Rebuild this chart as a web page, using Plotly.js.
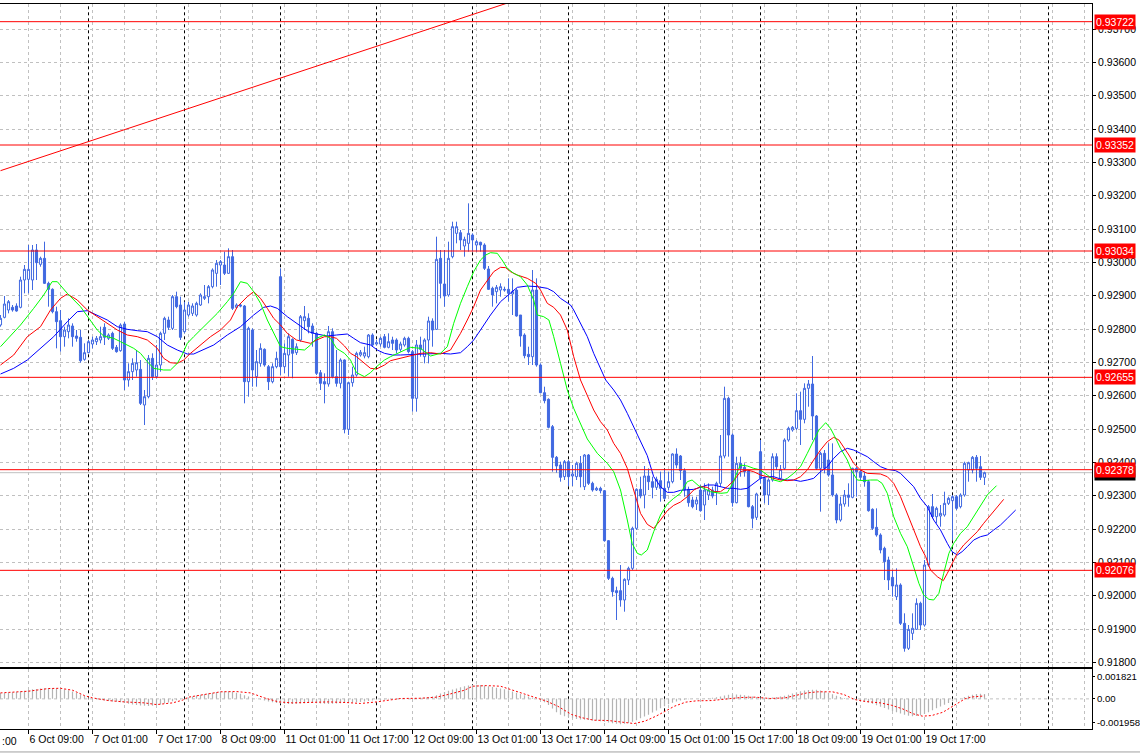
<!DOCTYPE html>
<html><head><meta charset="utf-8">
<script src="https://cdn.plot.ly/plotly-3.0.1.min.js"></script>
<style>html,body{margin:0;padding:0;background:#fff;}#chart{width:1140px;height:754px;}</style>
</head><body><div id="chart"></div>
<script>
// ---- H1 candles, bar 0 = 6 Oct 02:00 ----
const openP = [
0.92812,0.92835,0.92857,0.92865,0.92869,0.92865,0.92947,0.92949,0.92947,0.93037,
0.92994,0.93012,0.92937,0.92919,0.92852,0.92825,0.92777,0.92792,0.92809,0.92779,
0.92775,0.92709,0.92729,0.92755,0.92762,0.92767,0.92805,0.92772,0.92787,0.92745,
0.92735,0.92815,0.92647,0.92672,0.92677,0.92679,0.92572,0.92597,0.92712,0.92657,
0.92692,0.92787,0.92827,0.92802,0.92897,0.92872,0.92792,0.92842,0.92847,0.92842,
0.92872,0.92892,0.92897,0.92927,0.92967,0.92992,0.92992,0.92967,0.93017,0.92865,
0.92872,0.92869,0.92642,0.92797,0.92657,0.92697,0.92739,0.92687,0.92642,0.92687,
0.92957,0.92687,0.92722,0.92769,0.92729,0.92767,0.92825,0.92832,0.92809,0.92787,
0.92669,0.92642,0.92635,0.92792,0.92657,0.92637,0.92707,0.92499,0.92639,0.92662,
0.92722,0.92719,0.92717,0.92782,0.92755,0.92755,0.92777,0.92745,0.92767,0.92767,
0.92739,0.92752,0.92772,0.92732,0.92592,0.92752,0.92717,0.92767,0.92824,0.92799,
0.93012,0.92935,0.92902,0.93017,0.93087,0.93089,0.93049,0.93057,0.93082,0.93052,
0.93060,0.93052,0.92980,0.92922,0.92912,0.92917,0.92919,0.92919,0.92905,0.92917,
0.92842,0.92782,0.92724,0.92717,0.92917,0.92692,0.92609,0.92589,0.92507,0.92415,
0.92392,0.92357,0.92402,0.92359,0.92357,0.92397,0.92327,0.92422,0.92337,0.92317,
0.92322,0.92315,0.92165,0.92052,0.92015,0.92015,0.91987,0.92047,0.92082,0.92202,
0.92319,0.92302,0.92359,0.92342,0.92325,0.92345,0.92322,0.92325,0.92342,0.92425,
0.92419,0.92375,0.92319,0.92287,0.92275,0.92317,0.92272,0.92302,0.92317,0.92312,
0.92337,0.92419,0.92592,0.92482,0.92279,0.92397,0.92385,0.92375,0.92267,0.92235,
0.92432,0.92352,0.92302,0.92347,0.92417,0.92352,0.92382,0.92467,0.92497,0.92502,
0.92555,0.92529,0.92622,0.92635,0.92539,0.92382,0.92427,0.92407,0.92362,0.92302,
0.92227,0.92275,0.92302,0.92295,0.92382,0.92372,0.92359,0.92342,0.92259,0.92205,
0.92182,0.92142,0.92107,0.92055,0.91997,0.92032,0.91917,0.91842,0.91887,0.91899,
0.91977,0.91912,0.92092,0.92267,0.92237,0.92239,0.92242,0.92277,0.92285,0.92297,
0.92267,0.92302,0.92377,0.92377,0.92415,0.92387,0.92355];
const highP = [
0.92842,0.92899,0.92887,0.92872,0.92877,0.92957,0.92992,0.93052,0.93052,0.93055,
0.93017,0.93062,0.92942,0.92922,0.92867,0.92857,0.92807,0.92832,0.92817,0.92797,
0.92797,0.92757,0.92767,0.92777,0.92779,0.92807,0.92817,0.92787,0.92792,0.92752,
0.92817,0.92822,0.92697,0.92712,0.92737,0.92707,0.92617,0.92722,0.92727,0.92752,
0.92792,0.92837,0.92837,0.92902,0.92912,0.92897,0.92882,0.92882,0.92877,0.92882,
0.92907,0.92932,0.92932,0.92982,0.93007,0.93007,0.93032,0.93042,0.93037,0.92877,
0.92877,0.92872,0.92807,0.92802,0.92737,0.92757,0.92742,0.92692,0.92697,0.92732,
0.92982,0.92757,0.92787,0.92772,0.92757,0.92842,0.92869,0.92847,0.92817,0.92792,
0.92677,0.92667,0.92809,0.92802,0.92737,0.92712,0.92709,0.92642,0.92687,0.92732,
0.92737,0.92747,0.92785,0.92787,0.92767,0.92777,0.92785,0.92787,0.92777,0.92772,
0.92762,0.92777,0.92777,0.92737,0.92767,0.92777,0.92772,0.92837,0.92832,0.93077,
0.93037,0.93037,0.93062,0.93122,0.93122,0.93097,0.93077,0.93177,0.93087,0.93067,
0.93062,0.93057,0.92989,0.92927,0.92932,0.92937,0.92927,0.92952,0.92952,0.92922,
0.92842,0.92787,0.92747,0.92977,0.92952,0.92697,0.92627,0.92592,0.92512,0.92419,
0.92402,0.92407,0.92407,0.92392,0.92402,0.92419,0.92425,0.92425,0.92342,0.92327,
0.92327,0.92317,0.92167,0.92057,0.92027,0.92092,0.92052,0.92087,0.92207,0.92322,
0.92357,0.92389,0.92382,0.92357,0.92357,0.92372,0.92377,0.92372,0.92427,0.92442,
0.92422,0.92382,0.92327,0.92297,0.92297,0.92332,0.92337,0.92337,0.92327,0.92342,
0.92482,0.92627,0.92597,0.92487,0.92417,0.92417,0.92397,0.92377,0.92272,0.92309,
0.92467,0.92357,0.92352,0.92427,0.92427,0.92392,0.92472,0.92507,0.92509,0.92607,
0.92612,0.92637,0.92647,0.92719,0.92542,0.92432,0.92437,0.92457,0.92457,0.92307,
0.92297,0.92317,0.92337,0.92384,0.92387,0.92377,0.92372,0.92347,0.92262,0.92262,
0.92187,0.92147,0.92117,0.92077,0.92082,0.92037,0.91947,0.91912,0.91947,0.91992,
0.91982,0.92107,0.92272,0.92305,0.92267,0.92272,0.92312,0.92297,0.92302,0.92302,
0.92307,0.92402,0.92402,0.92419,0.92422,0.92419,0.92372];
const lowP = [
0.92807,0.92832,0.92847,0.92852,0.92852,0.92862,0.92907,0.92907,0.92917,0.92947,
0.92987,0.92935,0.92867,0.92847,0.92742,0.92732,0.92747,0.92772,0.92747,0.92762,
0.92699,0.92705,0.92727,0.92742,0.92752,0.92757,0.92752,0.92767,0.92737,0.92729,
0.92732,0.92617,0.92627,0.92647,0.92657,0.92572,0.92512,0.92592,0.92647,0.92652,
0.92672,0.92767,0.92797,0.92797,0.92862,0.92767,0.92787,0.92837,0.92839,0.92837,
0.92869,0.92887,0.92877,0.92922,0.92927,0.92932,0.92962,0.92965,0.92857,0.92862,
0.92865,0.92577,0.92597,0.92627,0.92627,0.92687,0.92687,0.92617,0.92637,0.92682,
0.92662,0.92667,0.92657,0.92652,0.92722,0.92762,0.92797,0.92787,0.92747,0.92662,
0.92617,0.92577,0.92627,0.92652,0.92627,0.92622,0.92487,0.92482,0.92627,0.92657,
0.92717,0.92712,0.92712,0.92747,0.92751,0.92747,0.92742,0.92742,0.92737,0.92727,
0.92732,0.92747,0.92727,0.92552,0.92552,0.92717,0.92697,0.92697,0.92747,0.92797,
0.92892,0.92867,0.92897,0.93012,0.93057,0.93037,0.93017,0.93032,0.93032,0.93032,
0.93032,0.92977,0.92917,0.92867,0.92877,0.92897,0.92912,0.92882,0.92842,0.92837,
0.92747,0.92712,0.92692,0.92692,0.92687,0.92607,0.92577,0.92502,0.92372,0.92369,
0.92342,0.92347,0.92329,0.92329,0.92347,0.92325,0.92317,0.92332,0.92312,0.92314,
0.92307,0.92162,0.92047,0.91997,0.91927,0.91967,0.91952,0.92032,0.92077,0.92197,
0.92292,0.92262,0.92317,0.92292,0.92317,0.92282,0.92287,0.92317,0.92337,0.92382,
0.92347,0.92297,0.92267,0.92262,0.92257,0.92252,0.92227,0.92287,0.92292,0.92272,
0.92327,0.92412,0.92417,0.92267,0.92277,0.92357,0.92357,0.92265,0.92202,0.92227,
0.92337,0.92277,0.92272,0.92342,0.92377,0.92347,0.92377,0.92462,0.92492,0.92497,
0.92452,0.92517,0.92567,0.92467,0.92377,0.92252,0.92367,0.92357,0.92297,0.92217,
0.92222,0.92267,0.92267,0.92292,0.92297,0.92347,0.92327,0.92252,0.92197,0.92177,
0.92127,0.92047,0.92017,0.91997,0.91987,0.91912,0.91832,0.91837,0.91867,0.91897,
0.91897,0.91907,0.92087,0.92232,0.92217,0.92207,0.92237,0.92272,0.92167,0.92257,
0.92262,0.92297,0.92342,0.92367,0.92342,0.92347,0.92332];
const closeP = [
0.92832,0.92875,0.92882,0.92857,0.92854,0.92947,0.92979,0.92979,0.93037,0.92999,
0.93012,0.92937,0.92919,0.92852,0.92822,0.92777,0.92797,0.92812,0.92777,0.92772,
0.92705,0.92729,0.92762,0.92767,0.92772,0.92777,0.92775,0.92782,0.92742,0.92732,
0.92812,0.92647,0.92672,0.92697,0.92699,0.92577,0.92597,0.92712,0.92657,0.92692,
0.92787,0.92832,0.92805,0.92897,0.92867,0.92775,0.92857,0.92872,0.92869,0.92877,
0.92902,0.92897,0.92927,0.92977,0.92997,0.93002,0.92967,0.93017,0.92862,0.92872,
0.92869,0.92642,0.92802,0.92677,0.92702,0.92742,0.92692,0.92642,0.92687,0.92712,
0.92687,0.92727,0.92777,0.92727,0.92747,0.92837,0.92837,0.92807,0.92787,0.92667,
0.92637,0.92635,0.92792,0.92657,0.92637,0.92707,0.92499,0.92639,0.92662,0.92727,
0.92730,0.92729,0.92782,0.92752,0.92759,0.92772,0.92745,0.92762,0.92757,0.92737,
0.92755,0.92772,0.92732,0.92592,0.92752,0.92739,0.92767,0.92824,0.92797,0.93009,
0.92937,0.92899,0.93012,0.93107,0.93107,0.93067,0.93069,0.93087,0.93067,0.93062,
0.93052,0.92982,0.92919,0.92902,0.92925,0.92927,0.92917,0.92907,0.92912,0.92839,
0.92779,0.92720,0.92717,0.92917,0.92692,0.92609,0.92585,0.92505,0.92415,0.92389,
0.92355,0.92402,0.92357,0.92365,0.92397,0.92357,0.92422,0.92337,0.92317,0.92322,
0.92315,0.92165,0.92052,0.92012,0.92009,0.91987,0.92049,0.92082,0.92202,0.92319,
0.92299,0.92359,0.92342,0.92325,0.92349,0.92322,0.92292,0.92342,0.92425,0.92392,
0.92375,0.92317,0.92279,0.92267,0.92287,0.92255,0.92317,0.92317,0.92299,0.92337,
0.92419,0.92592,0.92482,0.92279,0.92397,0.92382,0.92372,0.92267,0.92232,0.92305,
0.92352,0.92302,0.92347,0.92417,0.92387,0.92379,0.92467,0.92502,0.92505,0.92555,
0.92529,0.92622,0.92635,0.92539,0.92382,0.92427,0.92382,0.92362,0.92302,0.92227,
0.92275,0.92302,0.92295,0.92382,0.92372,0.92355,0.92342,0.92255,0.92202,0.92182,
0.92137,0.92102,0.92047,0.92029,0.92032,0.91917,0.91842,0.91899,0.91902,0.91977,
0.91912,0.92092,0.92267,0.92237,0.92262,0.92247,0.92277,0.92292,0.92297,0.92262,
0.92302,0.92397,0.92399,0.92415,0.92382,0.92355,0.92369];

// ---- Alligator lines (bar position incl. forward shift) ----
const jawX = [0,3.3,6.7,10,13.3,16.7,19.2,21.7,24.2,26.7,29.2,31.7,34.2,36.7,39.2,41.7,44.2,46.7,48.3,50,
53.3,56.7,60,63.3,65.8,67.5,69.2,71.7,75,77,79,81.7,84,86.7,88.3,90,92.5,94.2,96,98,
100,105,110,112.5,115,116.7,118.3,120,122.5,125,127.5,129.2,131.7,134.2,136.7,138.3,140,141.7,142.5,143.3,
145,146.7,148.3,150,151.3,153.3,155,156.7,158.3,160,161.7,163.3,165,166.7,168.3,170,171.7,173.3,175,176.7,
178.3,180,181.7,183.3,185,186.7,188.3,190,191.7,193.3,195,196.7,198.3,200,201.7,203.3,205,206.7,208.3,210,
211.7,213.3,215,216.7,218.3,220,221.7,223.8,225,226.7,228.3,230,231.7,233.3,235,236.7,237.9,239.2,240.4,241.7,
243.3,245,246.7,248.3,250,251.7,253.8];
const jawY = [0.92665,0.92682,0.92707,0.92742,0.92777,0.92822,0.92852,0.92855,0.92842,0.92827,0.92807,0.92799,0.92795,0.92792,0.92777,0.92752,0.92737,0.92725,0.92725,0.92735,
0.92752,0.92782,0.92807,0.92842,0.92865,0.92869,0.92862,0.92837,0.92810,0.92792,0.92785,0.92779,0.92782,0.92785,0.92772,0.92759,0.92752,0.92737,0.92727,0.92722,
0.92722,0.92725,0.92727,0.92725,0.92729,0.92747,0.92767,0.92797,0.92842,0.92882,0.92907,0.92925,0.92929,0.92927,0.92922,0.92912,0.92892,0.92877,0.92872,0.92857,
0.92817,0.92777,0.92727,0.92682,0.92647,0.92617,0.92587,0.92547,0.92507,0.92464,0.92420,0.92357,0.92327,0.92310,0.92310,0.92316,0.92317,0.92319,0.92325,0.92332,
0.92332,0.92327,0.92322,0.92322,0.92319,0.92322,0.92337,0.92352,0.92357,0.92357,0.92350,0.92347,0.92347,0.92343,0.92347,0.92352,0.92372,0.92387,0.92412,0.92432,
0.92442,0.92437,0.92427,0.92417,0.92402,0.92387,0.92379,0.92375,0.92367,0.92347,0.92327,0.92292,0.92267,0.92227,0.92197,0.92157,0.92132,0.92122,0.92132,0.92147,
0.92167,0.92177,0.92182,0.92197,0.92212,0.92232,0.92257];
const teethX = [0,3.3,6.7,10,12.5,15,16.7,19.2,21.7,24.2,26.7,29.2,31.7,34.2,36.7,39.2,40.8,42.5,44.2,45.8,
47.5,50,52.5,55,57.5,59.2,61.7,63.3,65,66.7,68.3,70,71.7,74,76,77.5,79,81,82.5,84,
86,87.5,89,91,92.5,94,96,97.5,100,102.5,105,107.5,110,112.5,115,116.7,118.3,120,121.7,123.3,
125,126.3,127.5,129.2,131.7,133.8,135,136.7,138.3,140,141.7,143.3,145,146.7,148.3,150,151.7,153.3,155,156.7,
158.3,160,161.7,163.3,165,166.7,168.3,170,171.7,173.3,175,176.7,178.3,180,181.7,183.3,185,186.7,188.3,190,
191.7,193.3,195,196.7,198.3,200,201.7,203.3,205,206.7,208.3,209.6,210.8,212.1,213.3,215,216.7,218.3,220,221.7,
223.3,225,226.7,228.3,230,231.3,232.5,234.2,235.7,236.7,237.9,239.2,240.8,242.5,244.2,245.8,247.5,249.2,250.8];
const teethY = [0.92692,0.92722,0.92777,0.92807,0.92857,0.92892,0.92905,0.92887,0.92857,0.92837,0.92817,0.92797,0.92782,0.92777,0.92767,0.92742,0.92712,0.92699,0.92697,0.92707,
0.92727,0.92752,0.92777,0.92797,0.92827,0.92867,0.92897,0.92912,0.92892,0.92862,0.92832,0.92812,0.92787,0.92767,0.92762,0.92757,0.92767,0.92777,0.92777,0.92772,
0.92749,0.92727,0.92717,0.92697,0.92682,0.92680,0.92692,0.92705,0.92712,0.92719,0.92727,0.92729,0.92725,0.92737,0.92787,0.92827,0.92867,0.92917,0.92947,0.92972,
0.92985,0.92984,0.92972,0.92962,0.92952,0.92937,0.92917,0.92877,0.92865,0.92842,0.92797,0.92717,0.92647,0.92600,0.92557,0.92522,0.92497,0.92457,0.92427,0.92382,
0.92317,0.92247,0.92214,0.92202,0.92227,0.92255,0.92271,0.92281,0.92297,0.92317,0.92327,0.92325,0.92312,0.92312,0.92327,0.92345,0.92372,0.92377,0.92372,0.92362,
0.92357,0.92352,0.92347,0.92345,0.92347,0.92357,0.92377,0.92407,0.92437,0.92462,0.92475,0.92467,0.92447,0.92422,0.92397,0.92377,0.92367,0.92367,0.92365,0.92357,
0.92337,0.92297,0.92247,0.92197,0.92147,0.92117,0.92077,0.92057,0.92045,0.92067,0.92097,0.92127,0.92152,0.92172,0.92192,0.92217,0.92242,0.92267,0.92289];
const lipsX = [0,5,8.3,10.8,12.9,14.2,16.7,20,22.1,24.2,25.8,28.3,30,31.7,33.3,35,36.7,38.3,40.8,42.5,
44.2,45.4,46.7,48.3,50,51.7,54.2,56.7,58.3,60,61.7,63.3,65,66.7,68.3,70,71.7,74,76,77.5,
79,81,82.5,84,86,87.5,89,91,92.5,94,96,97.5,100,102.5,105,107.5,110,111.7,113.3,115,
116.7,118.3,120,121.3,122.5,124.2,125.4,126.7,128.3,130,131.7,133.3,134.2,135.8,137.1,138.3,140,141.7,143.3,145,
146.7,149.2,151.7,153.3,155,156.7,157.9,159.2,160.2,161.7,163.3,165,166.7,168.3,170,171.7,172.9,174.6,175.8,177.5,
180,181.7,183.3,184.2,185,186.7,188.3,190,191.7,193.3,195,196.7,198.3,200,201.7,203.3,204.6,206.3,207.5,208.8,
210,211.7,212.9,214.2,215.8,217.5,219.2,220.4,221.7,223.3,225,226.7,228.3,229.6,230.8,232.1,233.3,234.6,235.8,237.1,
238.3,240,241.7,243.3,245,246.7,249];
const lipsY = [0.92747,0.92812,0.92862,0.92902,0.92942,0.92942,0.92907,0.92867,0.92832,0.92797,0.92779,0.92772,0.92762,0.92752,0.92742,0.92727,0.92702,0.92682,0.92677,0.92677,
0.92697,0.92722,0.92757,0.92777,0.92797,0.92817,0.92847,0.92882,0.92907,0.92942,0.92937,0.92912,0.92877,0.92827,0.92787,0.92747,0.92742,0.92739,0.92737,0.92752,
0.92772,0.92782,0.92772,0.92742,0.92727,0.92707,0.92669,0.92657,0.92669,0.92687,0.92707,0.92717,0.92732,0.92745,0.92742,0.92719,0.92727,0.92747,0.92817,0.92877,
0.92927,0.92972,0.93007,0.93022,0.93029,0.93027,0.93007,0.92982,0.92967,0.92957,0.92932,0.92887,0.92842,0.92837,0.92827,0.92777,0.92697,0.92617,0.92562,0.92515,
0.92470,0.92427,0.92397,0.92372,0.92317,0.92227,0.92157,0.92127,0.92122,0.92137,0.92192,0.92242,0.92275,0.92292,0.92307,0.92342,0.92347,0.92329,0.92322,0.92312,
0.92307,0.92309,0.92342,0.92372,0.92392,0.92389,0.92382,0.92377,0.92362,0.92347,0.92342,0.92352,0.92367,0.92387,0.92427,0.92467,0.92497,0.92519,0.92502,0.92472,
0.92442,0.92407,0.92372,0.92347,0.92345,0.92347,0.92347,0.92337,0.92307,0.92237,0.92187,0.92147,0.92087,0.92037,0.92002,0.91989,0.91987,0.92007,0.92067,0.92127,
0.92157,0.92187,0.92207,0.92237,0.92267,0.92302,0.92330];

// ---- MACD (main = histogram, one per bar; signal = dotted) ----
const macdMain = [
0.00049,0.00050,0.00052,0.00055,0.00058,0.00062,0.00066,0.00072,0.00078,0.00082,
0.00086,0.00088,0.00090,0.00090,0.00088,0.00084,0.00078,0.00070,0.00060,0.00048,
0.00036,0.00024,0.00012,0.00004,-0.00004,-0.00010,-0.00014,-0.00018,-0.00022,-0.00024,
-0.00028,-0.00034,-0.00040,-0.00046,-0.00050,-0.00054,-0.00056,-0.00058,-0.00056,-0.00052,
-0.00046,-0.00038,-0.00030,-0.00020,-0.00012,-0.00004,0.00004,0.00012,0.00020,0.00028,
0.00034,0.00040,0.00046,0.00050,0.00056,0.00060,0.00062,0.00062,0.00058,0.00050,
0.00042,0.00030,0.00020,0.00010,0.00002,-0.00006,-0.00014,-0.00022,-0.00028,-0.00034,
-0.00038,-0.00040,-0.00042,-0.00042,-0.00040,-0.00038,-0.00036,-0.00034,-0.00034,-0.00036,
-0.00038,-0.00040,-0.00042,-0.00040,-0.00038,-0.00036,-0.00034,-0.00032,-0.00030,-0.00028,
-0.00026,-0.00022,-0.00018,-0.00014,-0.00010,-0.00008,-0.00006,-0.00004,-0.00002,0.00000,
0.00002,0.00004,0.00004,0.00006,0.00008,0.00010,0.00012,0.00016,0.00020,0.00030,
0.00044,0.00056,0.00066,0.00076,0.00086,0.00096,0.00104,0.00110,0.00114,0.00116,
0.00114,0.00110,0.00104,0.00098,0.00092,0.00086,0.00078,0.00070,0.00060,0.00050,
0.00040,0.00030,0.00020,0.00010,0.00000,-0.00010,-0.00028,-0.00050,-0.00080,-0.00110,
-0.00130,-0.00142,-0.00152,-0.00160,-0.00166,-0.00170,-0.00172,-0.00174,-0.00177,-0.00180,
-0.00183,-0.00188,-0.00195,-0.00200,-0.00205,-0.00208,-0.00205,-0.00198,-0.00188,-0.00175,
-0.00160,-0.00145,-0.00130,-0.00112,-0.00095,-0.00078,-0.00060,-0.00045,-0.00032,-0.00022,
-0.00014,-0.00008,-0.00004,-0.00002,0.00000,0.00002,0.00004,0.00006,0.00010,0.00014,
0.00020,0.00028,0.00034,0.00036,0.00036,0.00034,0.00030,0.00026,0.00020,0.00016,
0.00012,0.00010,0.00010,0.00012,0.00016,0.00020,0.00026,0.00034,0.00044,0.00054,
0.00062,0.00068,0.00072,0.00075,0.00074,0.00068,0.00060,0.00050,0.00038,0.00026,
0.00016,0.00008,0.00000,-0.00006,-0.00012,-0.00016,-0.00022,-0.00030,-0.00040,-0.00052,
-0.00064,-0.00076,-0.00088,-0.00100,-0.00110,-0.00120,-0.00130,-0.00138,-0.00142,-0.00140,
-0.00134,-0.00124,-0.00110,-0.00094,-0.00078,-0.00062,-0.00048,-0.00034,-0.00020,-0.00008,
0.00004,0.00016,0.00026,0.00034,0.00040,0.00042,0.00040];
const sigX = [0,7,12,15,18,21,23,27,31,36,39,43,45.5,47,51,55,59,62.5,66,69.5,
73,78,82,86.5,90,94,96.5,100,105,109,112.5,116,118,121.5,125,127,130.5,134,136.5,139.3,
142.8,145.5,148.3,152,154.7,158.4,161.1,163.9,166.2,168.5,171.3,174,177.7,181.4,185,188.7,192.4,196.1,198.8,201.6,
204.3,208,210.8,213.5,216.3,220,222.7,225.5,228.2,230.5,232.8,235.6,237.4,239.3,241.1,242.9,245.2,246];
const sigY = [0.00049,0.00063,0.00085,0.00087,0.00071,0.00027,0.00008,-0.00014,-0.00025,-0.00033,
-0.00047,-0.00033,-0.00011,0.00014,0.00036,0.00058,0.00060,0.00049,0.00008,-0.00025,
-0.00033,-0.00030,-0.00025,-0.00030,-0.00038,-0.00025,-0.00011,0.00003,0.00005,0.00014,
0.00041,0.00071,0.00104,0.00109,0.00104,0.00082,0.00044,0.00008,-0.00019,-0.00060,
-0.00129,-0.00156,-0.00175,-0.00178,-0.00189,-0.00203,-0.00183,-0.00142,-0.00101,-0.00060,
-0.00027,-0.00016,-0.00014,0.00000,0.00011,0.00014,0.00003,0.00008,0.00027,0.00049,
0.00058,0.00058,0.00036,-0.00005,-0.00022,-0.00033,-0.00052,-0.00082,-0.00123,-0.00142,
-0.00137,-0.00110,-0.00074,-0.00033,0.00000,0.00016,0.00022,0.00024];

// ---- objects, axis labels ----
const levels = [0.93722, 0.93352, 0.93034, 0.92655, 0.92378, 0.92076];
const bidPrice = 0.92369;
const trendX = [0, 130];
const trendY = [0.93275, 0.93791];
const labelPos = [7,23,39,55,71,87,103,119,135,151,167,183,199,215,231];
const labelText = ['6 Oct 09:00','7 Oct 01:00','7 Oct 17:00','8 Oct 09:00','11 Oct 01:00','11 Oct 17:00',
 '12 Oct 09:00','13 Oct 01:00','13 Oct 17:00','14 Oct 09:00','15 Oct 01:00','15 Oct 17:00',
 '18 Oct 09:00','19 Oct 01:00','19 Oct 17:00'];
const daySep = [22,46,70,94,118,142,166,190,214,238,262];
const subTicks = [0.001821, 0, -0.001958];
const subTickText = ['0.001821','0.00','-0.001958'];

const barIdx = openP.map((_, k) => k);
const FONT = 'Liberation Sans, Arial, sans-serif';
const GRID = '#c0c0c0';
const BLUE = '#4169e1';
const MAIN_DOM = [0.11538, 0.99469];
const SUB_DOM = [0.03276, 0.11233];
const XR = [-0.125, 272.875];
const TF = {family:FONT, size:10.5, color:'#000'};

const traces = [
  {type:'candlestick', x:barIdx, open:openP, high:highP, low:lowP, close:closeP, xaxis:'x', yaxis:'y',
   increasing:{line:{color:BLUE,width:1}, fillcolor:'#ffffff'},
   decreasing:{line:{color:BLUE,width:1}, fillcolor:BLUE}, whiskerwidth:0, hoverinfo:'skip'},
  {type:'scatter', mode:'lines', x:jawX, y:jawY, xaxis:'x', yaxis:'y', line:{color:'#0000ff', width:1}, hoverinfo:'skip'},
  {type:'scatter', mode:'lines', x:teethX, y:teethY, xaxis:'x', yaxis:'y', line:{color:'#ff0000', width:1}, hoverinfo:'skip'},
  {type:'scatter', mode:'lines', x:lipsX, y:lipsY, xaxis:'x', yaxis:'y', line:{color:'#00ff00', width:1}, hoverinfo:'skip'},
  {type:'scatter', mode:'lines', x:trendX, y:trendY, xaxis:'x', yaxis:'y', line:{color:'#ff0000', width:1}, hoverinfo:'skip'},
  {type:'bar', x:barIdx, y:macdMain, xaxis:'x2', yaxis:'y2', width:0.3, marker:{color:'#b4b4b4', line:{width:0}}, hoverinfo:'skip'},
  {type:'scatter', mode:'lines', x:sigX, y:sigY, xaxis:'x2', yaxis:'y2', line:{color:'#ff0000', width:1, dash:'2px,2px'}, hoverinfo:'skip'}
];

const shapes = [];
daySep.forEach(d => shapes.push({type:'line', xref:'x', yref:'paper', x0:d, x1:d, y0:SUB_DOM[0], y1:MAIN_DOM[1],
  line:{color:'#000', width:1, dash:'3px,3px'}, layer:'below'}));
shapes.push({type:'line', xref:'paper', yref:'y', x0:0, x1:1, y0:bidPrice, y1:bidPrice, line:{color:'#c0c0c0', width:1}, layer:'below'});
levels.forEach(v => shapes.push({type:'line', xref:'paper', yref:'y', x0:0, x1:1, y0:v, y1:v, line:{color:'#ff0000', width:1}, layer:'above'}));
shapes.push({type:'line', xref:'paper', yref:'y2', x0:0, x1:1, y0:0, y1:0, line:{color:GRID, width:1, dash:'3px,3px'}, layer:'below'});
shapes.push({type:'line', xref:'paper', yref:'paper', x0:0, x1:1140/1092, y0:0.0027, y1:0.0027, line:{color:'#a0a0a0', width:1}});

const annotations = [];
annotations.push({xref:'paper', yref:'y', x:1, y:bidPrice, xanchor:'left', yanchor:'middle', xshift:2, showarrow:false,
  text:bidPrice.toFixed(5), bgcolor:'#000', borderpad:1, font:{family:FONT, size:10.5, color:'#fff'}});
levels.forEach(v => annotations.push({xref:'paper', yref:'y', x:1, y:v, xanchor:'left', yanchor:'middle', xshift:2, showarrow:false,
  text:v.toFixed(5), bgcolor:'#ff0000', borderpad:1, font:{family:FONT, size:10.5, color:'#fff'}}));
annotations.push({xref:'paper', yref:'paper', x:0, y:1-741/754, xanchor:'left', yanchor:'middle', showarrow:false,
  text:':00', font:TF});

const xBase = {range:XR, tickmode:'array', tickvals:labelPos, showgrid:true, gridcolor:GRID, gridwidth:1, griddash:'3px,3px',
  minor:{tickmode:'linear', tick0:7, dtick:8, showgrid:true, gridcolor:GRID, gridwidth:1, griddash:'3px,3px', ticks:''},
  showline:true, linecolor:'#000', linewidth:1, mirror:true, zeroline:false, fixedrange:true};

const layout = {
  width:1140, height:754, margin:{l:0, r:48, t:0, b:0, pad:0},
  paper_bgcolor:'#ffffff', plot_bgcolor:'#ffffff', showlegend:false, hovermode:false,
  boxgap:0.25,
  font:TF,
  xaxis: Object.assign({}, xBase, {domain:[0,1], anchor:'y', showticklabels:false, ticks:'', rangeslider:{visible:false}}),
  xaxis2: Object.assign({}, xBase, {domain:[0,1], anchor:'y2', showticklabels:true, ticktext:labelText, ticks:'outside',
     ticklen:4, tickcolor:'#000', tickangle:0, ticklabelposition:'outside right', tickfont:TF}),
  yaxis: {domain:MAIN_DOM, anchor:'x', range:[0.91786, 0.93775], side:'right', tickmode:'linear', tick0:0.918, dtick:0.001,
     tickformat:'.5f', ticks:'outside', ticklen:3, tickcolor:'#000', showgrid:true, gridcolor:GRID, gridwidth:1, griddash:'3px,3px',
     showline:true, linecolor:'#000', linewidth:1, mirror:true, zeroline:false, fixedrange:true, tickfont:TF},
  yaxis2: {domain:SUB_DOM, anchor:'x2', range:[-0.0025, 0.002429], side:'right', tickmode:'array', tickvals:subTicks, ticktext:subTickText,
     ticks:'outside', ticklen:2, tickcolor:'#000', showgrid:false, showline:true, linecolor:'#000', linewidth:1, mirror:true,
     zeroline:false, fixedrange:true, tickfont:{family:FONT, size:9.6, color:'#000'}},
  shapes:shapes, annotations:annotations
};

Plotly.newPlot('chart', traces, layout, {staticPlot:true, displayModeBar:false});
</script>
</body></html>
